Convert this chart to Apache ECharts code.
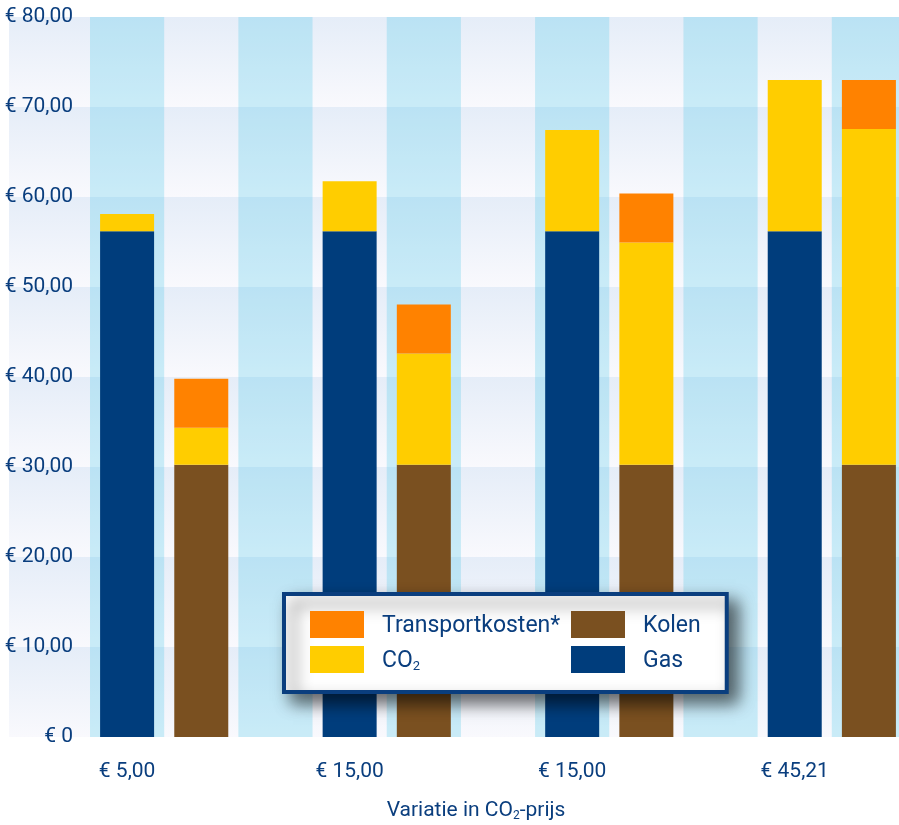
<!DOCTYPE html>
<html>
<head>
<meta charset="utf-8">
<script src="https://cdn.jsdelivr.net/npm/echarts@6/dist/echarts.min.js"></script>
<style>
html,body{margin:0;padding:0;background:#fff;}
#chart{width:899px;height:825px;}
</style>
</head>
<body>
<div id="chart"></div>
<script>
// ---- data ----
const categories = ['€ 5,00', '€ 15,00', '€ 15,00', '€ 45,21'];
const gas = [56.2, 56.2, 56.2, 56.2];
const co2Gas = [1.9, 5.55, 11.25, 16.8];
const kolen = [30.25, 30.25, 30.25, 30.25];
const co2Kolen = [4.1, 12.35, 24.7, 37.3];
const transport = [5.45, 5.45, 5.45, 5.45];
const yMin = 0, yMax = 80, yStep = 10;
const seriesNames = ['Gas', 'Kolen', 'CO2', 'Transportkosten*'];
const axisTitle = 'Variatie in CO{sub|2}-prijs';

// ---- build slot layout: gas, kolen, spacer per group ----
const slots = [];
const gasData = [], kolenData = [], co2Data = [], transData = [];
categories.forEach((c, i) => {
  slots.push(c); gasData.push(gas[i]); kolenData.push('-'); co2Data.push(co2Gas[i]); transData.push('-');
  slots.push(''); gasData.push('-'); kolenData.push(kolen[i]); co2Data.push(co2Kolen[i]); transData.push(transport[i]);
  if (i < categories.length - 1) {
    slots.push(''); gasData.push('-'); kolenData.push('-'); co2Data.push('-'); transData.push('-');
  }
});

const FONT = "Roboto, 'DejaVu Sans Condensed', sans-serif";
const TXT = '#0a3e7e';
const C = { gas: '#003d7c', kolen: '#7a5020', co2: '#ffcd00', trans: '#ff8200' };

const chart = echarts.init(document.getElementById('chart'), null, { renderer: 'canvas' });

const bandGrad = new echarts.graphic.LinearGradient(0, 0, 0, 1, [
  { offset: 0, color: '#e5edf8' },
  { offset: 1, color: '#f9f9fd' }
]);

const fmtY = v => v === 0 ? '€ 0' : '€ ' + v.toFixed(2).replace('.', ',');

const option = {
  animation: false,
  backgroundColor: '#ffffff',
  grid: [
    { left: 9, top: 17, width: 890, height: 720, outerBoundsMode: 'none', containLabel: false },
    { left: 90, top: 17, width: 816, height: 720, outerBoundsMode: 'none', containLabel: false }
  ],
  xAxis: [
    { type: 'value', gridIndex: 0, show: false, min: 0, max: 1 },
    {
      type: 'category', gridIndex: 1, data: slots, boundaryGap: true,
      axisLine: { show: false }, axisTick: { show: false, interval: 0 },
      axisLabel: { interval: 0, margin: 24, fontFamily: FONT, fontSize: 21, color: TXT },
      splitArea: { show: true, interval: 0, areaStyle: { color: ['rgba(58,194,233,0.25)', 'rgba(255,255,255,0)'] } },
      name: axisTitle, nameLocation: 'middle', nameGap: 63,
      nameTextStyle: {
        fontFamily: FONT, fontSize: 21, color: TXT, padding: [0, 44, 0, 0],
        rich: { sub: { fontFamily: FONT, fontSize: 12, color: TXT, verticalAlign: 'bottom', lineHeight: 22 } }
      }
    }
  ],
  yAxis: [
    {
      type: 'value', gridIndex: 0, min: yMin, max: yMax, interval: yStep,
      axisLine: { show: false }, axisTick: { show: false }, axisLabel: { show: false },
      splitLine: { show: false },
      splitArea: { show: true, areaStyle: { color: [bandGrad] } }
    },
    {
      type: 'value', gridIndex: 1, min: yMin, max: yMax, interval: yStep,
      axisLine: { show: false }, axisTick: { show: false },
      axisLabel: { margin: 17, fontFamily: FONT, fontSize: 21, color: TXT, formatter: fmtY },
      splitLine: { show: false }, splitArea: { show: false }
    }
  ],
  legend: {
    left: 284, top: 594, orient: 'horizontal',
    itemWidth: 54, itemHeight: 27, itemGap: 8,
    padding: [17, 26, 19, 26],
    backgroundColor: '#ffffff', borderColor: '#0a3e7e', borderWidth: 4,
    shadowBlur: 16, shadowColor: 'rgba(0,0,0,0.6)', shadowOffsetX: 9, shadowOffsetY: 9,
    icon: 'rect', selectedMode: false,
    data: [
      { name: 'Transportkosten*', textStyle: { width: 181 } },
      { name: 'Kolen', textStyle: { width: 53 } },
      '',
      { name: 'CO2', textStyle: { width: 181 } },
      { name: 'Gas', textStyle: { width: 53 } }
    ],
    formatter: n => n === 'CO2' ? '{m|CO}{sub|2}' : '{m|' + n + '}',
    textStyle: {
      fontFamily: FONT, fontSize: 23, color: TXT, padding: [0, 0, 0, 13], lineHeight: 27,
      rich: {
        m: { fontFamily: FONT, fontSize: 23, color: TXT, lineHeight: 27, verticalAlign: 'bottom' },
        sub: { fontFamily: FONT, fontSize: 13, color: TXT, lineHeight: 27, verticalAlign: 'bottom' }
      }
    }
  },
  series: [
    { name: seriesNames[0], type: 'bar', stack: 's', xAxisIndex: 1, yAxisIndex: 1, barWidth: 54, data: gasData, itemStyle: { color: C.gas } },
    { name: seriesNames[1], type: 'bar', stack: 's', xAxisIndex: 1, yAxisIndex: 1, barWidth: 54, data: kolenData, itemStyle: { color: C.kolen } },
    { name: seriesNames[2], type: 'bar', stack: 's', xAxisIndex: 1, yAxisIndex: 1, barWidth: 54, data: co2Data, itemStyle: { color: C.co2 } },
    { name: seriesNames[3], type: 'bar', stack: 's', xAxisIndex: 1, yAxisIndex: 1, barWidth: 54, data: transData, itemStyle: { color: C.trans } }
  ]
};
chart.setOption(option);
</script>
</body>
</html>
